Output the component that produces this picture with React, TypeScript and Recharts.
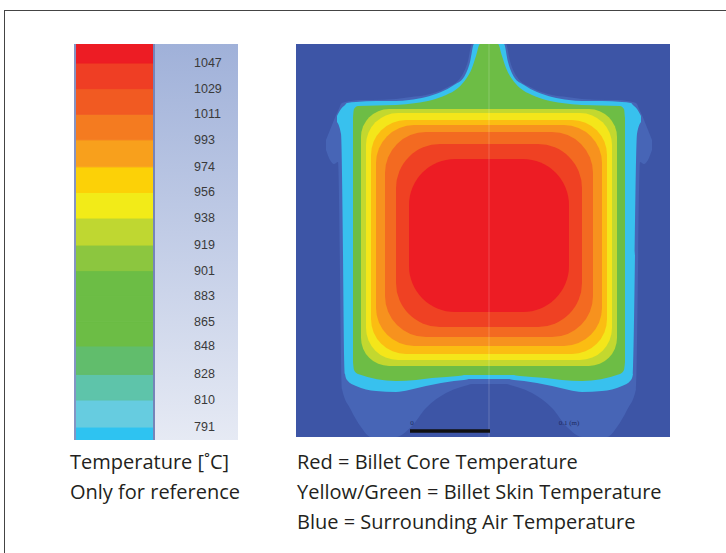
import { ComposedChart, Area, XAxis, YAxis, ReferenceArea, ReferenceLine, ReferenceDot } from 'recharts';

// colour scale, °C — bands listed bottom to top
const tempTicks = [1047, 1029, 1011, 993, 974, 956, 938, 919, 901, 883, 865, 848, 828, 810, 791];
const bandFrom = [781.9, 791, 810, 828, 848, 865, 883, 901, 919, 938, 956, 974, 993, 1011, 1029, 1047];
const bandTo = [791, 810, 828, 848, 865, 883, 901, 919, 938, 956, 974, 993, 1011, 1029, 1047, 1060.4];
const bandColors = [
  '#2ec3f1', '#66cce0', '#5ec4aa', '#61bd6c', '#6cbd45', '#6cbd45', '#6cbd45', '#8cc63f',
  '#bfd731', '#f2eb18', '#fcd107', '#f8a01c', '#f47b20', '#f15a22', '#ef3e24', '#ed1c24',
];

// billet cross-section, image pixels (x right, y down), 374 x 393
// outer halo of warmed air
const haloX = [30, 34, 38, 42, 46, 55, 65, 75, 100, 115, 130, 150, 165, 172, 176, 193, 210, 214, 221, 236, 256, 271, 286, 311, 321, 331, 340, 344, 348, 352, 356];
const haloTop = [96, 86, 76, 67, 59, 57, 56, 56, 55, 53, 51, 44, 33, 17, 0, 0, 0, 17, 33, 44, 51, 53, 55, 56, 56, 57, 59, 67, 76, 86, 96];
const haloBottom = [106, 116, 120, 118, 345, 366, 383, 393, 393, 383, 364, 349, 343, 341, 340, 340, 340, 341, 343, 349, 364, 383, 393, 393, 383, 366, 345, 118, 120, 116, 106];

// cyan skin boundary
const cyanX = [41, 45, 49, 51, 60, 80, 100, 113, 130, 145, 158, 168, 174, 178, 193, 208, 212, 218, 228, 241, 256, 273, 286, 306, 326, 335, 337, 341, 345];
const cyanTop = [72, 65, 61, 59, 58, 57, 57, 56, 53, 48, 41, 33, 18, 0, 0, 0, 18, 33, 41, 48, 53, 56, 57, 57, 58, 59, 61, 65, 72];
const cyanBottom = [78, 90, 330, 336, 342, 347, 348, 346, 342, 339, 337, 336, 335, 335, 335, 335, 335, 336, 337, 339, 342, 346, 348, 347, 342, 336, 330, 90, 78];

// green skin, with the neck at the top
const greenX = [57, 58, 62, 100, 120, 136, 150, 162, 170, 176, 180, 184, 193, 202, 206, 210, 216, 224, 236, 250, 266, 286, 324, 328, 329];
const greenTop = [74, 65, 62, 61, 59, 56, 51, 44, 35, 24, 12, 0, 0, 0, 12, 24, 35, 44, 51, 56, 59, 61, 62, 65, 74];
const greenBottom = [318, 326, 330, 337, 336, 334, 333, 332, 331, 331, 331, 331, 331, 331, 331, 331, 331, 332, 333, 334, 336, 337, 330, 326, 318];

// inner isotherms, outer to core
const coreLeft = [65, 70, 75, 80, 89, 100, 113];
const coreRight = [321, 316, 311, 306, 297, 286, 273];
const coreTop = [65, 69, 76, 81, 88, 100, 115];
const coreBottom = [322, 316, 310, 302, 293, 283, 268];
const coreColors = ['#c3d82f', '#f4e61a', '#fbbd12', '#f7921e', '#f36a21', '#ef4123', '#ed1c24'];
const coreRadius = [28, 32, 35, 38, 41, 44, 46];

const toRange = (xs: number[], top: number[], bottom: number[]) =>
  xs.map((x, i) => ({ x, span: [top[i], bottom[i]] }));

const FONT = '"Open Sans", sans-serif';

const roundRect = (r: number) => (p: any) => (
  <rect x={p.x} y={p.y} width={p.width} height={p.height} rx={r} ry={r} fill={p.fill} />
);

function ColourBar() {
  return (
    <div style={{ position: 'absolute', left: 74, top: 44, width: 164, height: 396 }}>
      <div
        style={{
          position: 'absolute', left: 81, top: 0, width: 83, height: 396,
          background: 'linear-gradient(#a0b1d9, #c6d0e8 55%, #e6eaf4)',
        }}
      />
      <ComposedChart width={164} height={396} margin={{ top: 0, right: 0, bottom: 0, left: 0 }}>
        <XAxis type="number" dataKey="x" domain={[0, 1]} allowDataOverflow hide />
        <YAxis
          type="number"
          domain={[781.9, 1060.4]}
          allowDataOverflow
          orientation="right"
          width={83}
          ticks={tempTicks}
          interval={0}
          axisLine={false}
          tickLine={false}
          tick={(p: any) => (
            <text x={p.x + 31} y={p.y} dy={4} textAnchor="start" fontSize={12.5} fill="#3a3a3a"
              fontFamily="Liberation Sans, Arial, sans-serif">
              {p.payload.value}
            </text>
          )}
        />
        {bandFrom.map((lo, i) => (
          <Area key={i} data={[{ x: 0, span: [lo, bandTo[i]] }, { x: 1, span: [lo, bandTo[i]] }]}
            dataKey="span" type="linear" fill={bandColors[i]} fillOpacity={1}
            stroke={bandColors[i]} strokeWidth={1}
            isAnimationActive={false} dot={false} activeDot={false} />
        ))}
      </ComposedChart>
      <div style={{ position: 'absolute', left: 0, top: 0, width: 2, height: 396, background: '#8494c4' }} />
      <div style={{ position: 'absolute', left: 79, top: 0, width: 2, height: 396, background: '#7585b9' }} />
    </div>
  );
}

function BilletMap() {
  return (
    <div style={{ position: 'absolute', left: 296, top: 44, width: 374, height: 393, background: '#3d55a6' }}>
      <ComposedChart width={374} height={393} margin={{ top: 0, right: 0, bottom: 0, left: 0 }}>
        <XAxis type="number" dataKey="x" domain={[0, 374]} allowDataOverflow hide />
        <YAxis type="number" domain={[0, 393]} reversed allowDataOverflow hide />
        <Area data={toRange(haloX, haloTop, haloBottom)} dataKey="span" type="monotone"
          fill="#4765b6" fillOpacity={1} stroke="none" isAnimationActive={false} dot={false} activeDot={false} />
        <Area data={toRange(cyanX, cyanTop, cyanBottom)} dataKey="span" type="monotone"
          fill="#38c1ee" fillOpacity={1} stroke="none" isAnimationActive={false} dot={false} activeDot={false} />
        <Area data={toRange(greenX, greenTop, greenBottom)} dataKey="span" type="monotone"
          fill="#6dbd45" fillOpacity={1} stroke="none" isAnimationActive={false} dot={false} activeDot={false} />
        {coreLeft.map((l, i) => (
          <ReferenceArea key={i} x1={l} x2={coreRight[i]} y1={coreTop[i]} y2={coreBottom[i]}
            fill={coreColors[i]} fillOpacity={1} stroke="none" shape={roundRect(coreRadius[i])} zIndex={150 + i} />
        ))}
        <ReferenceLine x={193} stroke="#ffffff" strokeOpacity={0.2} zIndex={300} />
        <ReferenceLine segment={[{ x: 114, y: 387 }, { x: 194, y: 387 }]} stroke="#101010"
          strokeWidth={3.5} zIndex={300} />
        <ReferenceDot x={116} y={379} r={0} stroke="none" zIndex={300}
          label={{ value: '0', fontSize: 7, fill: '#1e2a60', position: 'center' }} />
        <ReferenceDot x={273} y={379} r={0} stroke="none" zIndex={300}
          label={{ value: '0.1 (m)', fontSize: 7, fill: '#1e2a60', position: 'center' }} />
      </ComposedChart>
    </div>
  );
}

export default function App() {
  const caption = { position: 'absolute' as const, fontFamily: FONT, fontSize: 20, lineHeight: '30px', color: '#231f20', whiteSpace: 'nowrap' as const };
  return (
    <div style={{ position: 'absolute', left: 0, top: 0, width: 726, height: 553, background: '#fff', overflow: 'hidden' }}>
      <div style={{ position: 'absolute', left: 4, top: 10, width: 760, height: 600, borderTop: '1px solid #444', borderLeft: '1px solid #444' }} />
      <ColourBar />
      <BilletMap />
      <div style={{ ...caption, left: 70, top: 447 }}>
        <div>Temperature [˚C]</div>
        <div>Only for reference</div>
      </div>
      <div style={{ ...caption, left: 297, top: 447 }}>
        <div>Red = Billet Core Temperature</div>
        <div>Yellow/Green = Billet Skin Temperature</div>
        <div>Blue = Surrounding Air Temperature</div>
      </div>
    </div>
  );
}
